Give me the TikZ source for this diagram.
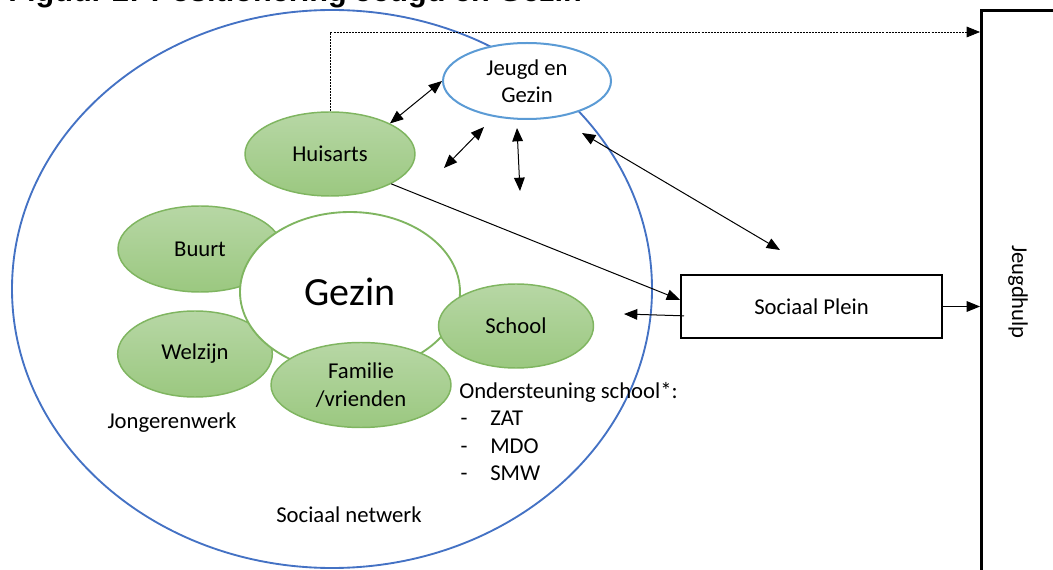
\documentclass[tikz,border=0pt]{standalone}
\usepackage{fontspec}
\setmainfont{Carlito}
\newfontfamily\titlefont{Liberation Sans}
\usetikzlibrary{shapes.geometric,arrows.meta}
\definecolor{bigblue}{HTML}{4472C4}
\definecolor{lightblue}{HTML}{5B9BD5}
\definecolor{gborder}{HTML}{7FB560}
\definecolor{gtop}{HTML}{B7D7A5}
\definecolor{gbot}{HTML}{9BC880}
\begin{document}
\begin{tikzpicture}[x=0.75pt,y=-0.75pt,
  lbl/.style={font=\fontsize{17}{20.5}\selectfont, align=center},
  greenell/.style={ellipse, draw=gborder, line width=1.1pt, top color=gtop, bottom color=gbot, inner sep=0pt, lbl},
  arr/.style={-{Triangle[length=10pt,width=8pt]}, line width=0.75pt},
  darr/.style={{Triangle[length=10pt,width=8pt]}-{Triangle[length=10pt,width=8pt]}, line width=0.75pt},
  txt/.style={lbl, inner sep=0pt}
]
\useasboundingbox (0,0) rectangle (1053,570);
\clip (0,0) rectangle (1053,570);
\node[anchor=base west, inner sep=0pt, font=\titlefont\bfseries\fontsize{23}{27}\selectfont] (title) at (8,2) {Figuur 2: Positionering Jeugd en Gezin};

% big social network ellipse
\node[ellipse, draw=bigblue, line width=1.4pt, minimum width=480pt, minimum height=418.5pt, inner sep=0pt] (net) at (332,289) {};

% Jeugdhulp
\node[draw, line width=2pt, minimum width=90pt, minimum height=465pt, inner sep=0pt, anchor=north west] (jh) at (980,9) {};
\node[txt, rotate=-90] (jhl) at (1018,292) {Jeugdhulp};

% green ellipses
\node[greenell, minimum width=127.5pt, minimum height=63pt] (hui) at (330,154) {Huisarts};
\node[greenell, minimum width=123pt, minimum height=64.5pt] (buurt) at (200,249) {Buurt};
\node[greenell, minimum width=116pt, minimum height=64.5pt] (welz) at (195,354) {Welzijn};
\node[ellipse, draw=gborder, line width=1.4pt, fill=white, minimum width=165pt, minimum height=120pt, inner sep=0pt, font=\fontsize{30}{36}\selectfont] (gezin) at (350,292) {Gezin};
\node[greenell, minimum width=116.25pt, minimum height=63pt] (school) at (516,326) {School};
\node[greenell, minimum width=135pt, minimum height=63.75pt] (fam) at (361,385) {Familie\\/vrienden};

% Jeugd en Gezin
\node[ellipse, draw=lightblue, line width=1.5pt, fill=white, minimum width=126pt, minimum height=57pt, inner sep=0pt, lbl] (jeg) at (527,81) {Jeugd en\\Gezin};

% Sociaal Plein
\node[draw, line width=1.5pt, fill=white, minimum width=195.75pt, minimum height=47.25pt, lbl] (sp) at (811.5,306.5) {Sociaal Plein};

% connectors
\coordinate (dtop) at (330,32);
\draw[arr, dash pattern=on 1.5pt off 0.8pt, line width=0.6pt] (hui.north) -- (dtop) -- (dtop -| jh.west);
\draw[darr] (hui.27) -- (jeg.west);
\coordinate (a1s) at (444,168);
\coordinate (a1e) at (484,127);
\draw[darr] (a1s) -- (a1e);
\coordinate (a2s) at (517,128);
\coordinate (a2e) at (520,191);
\draw[darr] (a2s) -- (a2e);
\coordinate (jegbr) at (582,133);
\coordinate (sptop) at (780,250);
\draw[darr] (jegbr) -- (sptop);
\draw[arr] (hui.-26) -- ([yshift=5pt]sp.west);
\coordinate (spleft) at (624,314);
\draw[arr] ([xshift=3pt,yshift=-7pt]sp.west) -- (spleft);
\draw[arr] (sp.east) -- (sp.east -| jh.west);

% texts
\node[txt] (jw) at (172,423) {Jongerenwerk};
\node[txt] (sn) at (349,515) {Sociaal netwerk};
\node[txt, anchor=base west] (os) at (459,398) {Ondersteuning school*:};
\node[txt, anchor=base] (d1) at (464,425) {-};
\node[txt, anchor=base west] (z1) at (490,425) {ZAT};
\node[txt, anchor=base] (d2) at (464,453) {-};
\node[txt, anchor=base west] (z2) at (490,453) {MDO};
\node[txt, anchor=base] (d3) at (464,480) {-};
\node[txt, anchor=base west] (z3) at (490,480) {SMW};
\end{tikzpicture}
\end{document}
